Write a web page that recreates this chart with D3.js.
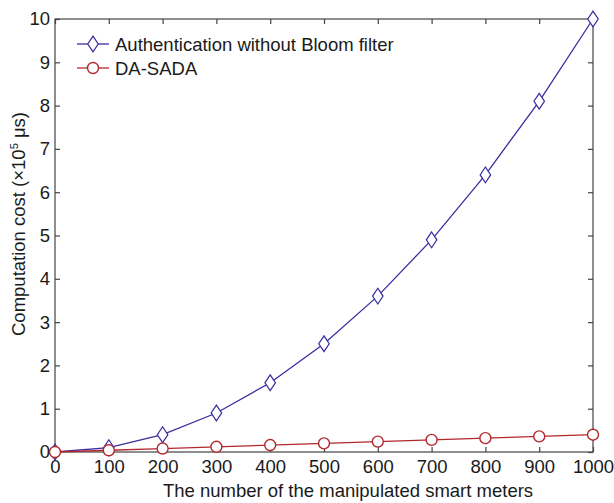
<!doctype html>
<html>
<body>
<style type="text/css">
    html,body{ margin:0; overflow:hidden; background:#fff; }
    text { font-family: "Liberation Sans", Arial, sans-serif; fill:#1a1a1a; }
</style>
<script src="https://d3js.org/d3.v7.min.js"></script>
<script type="text/javascript">
var meters = [0,100,200,300,400,500,600,700,800,900,1000];
var noBloom = [0,0.1,0.4,0.9,1.6,2.5,3.6,4.9,6.4,8.1,10];
var dasada = [0,0.04,0.08,0.12,0.16,0.2,0.24,0.28,0.32,0.36,0.4];
var yTicks = [0,1,2,3,4,5,6,7,8,9,10];

(function(){
var w = 614, h = 503,
    pl = 55, pr = 593, pt = 19, pb = 452;

var svg = d3.select("body").append("svg").attr("width", w).attr("height", h);

var x = d3.scaleLinear().domain([0,1000]).range([pl,pr]);
var y = d3.scaleLinear().domain([0,10]).range([pb,pt]);

// box + ticks
svg.append("rect").attr("x",pl).attr("y",pt).attr("width",pr-pl).attr("height",pb-pt)
    .attr("fill","none").attr("stroke","#444").attr("stroke-width",1.2);

var xa = svg.append("g").attr("transform","translate(0,"+pb+")")
    .call(d3.axisBottom(x).tickValues(meters).tickSize(-5).tickPadding(8).tickFormat(d3.format("d")));
var xt = svg.append("g").attr("transform","translate(0,"+pt+")")
    .call(d3.axisTop(x).tickValues(meters).tickSize(-5).tickFormat(""));
var ya = svg.append("g").attr("transform","translate("+pl+",0)")
    .call(d3.axisLeft(y).tickValues(yTicks).tickSize(-5).tickPadding(5));
var yr = svg.append("g").attr("transform","translate("+pr+",0)")
    .call(d3.axisRight(y).tickValues(yTicks).tickSize(-5).tickFormat(""));
[xa,xt,ya,yr].forEach(function(g){
    g.select(".domain").remove();
    g.selectAll("line").attr("stroke","#444").attr("stroke-width",1.2);
    g.selectAll("text").attr("font-size",18.5).attr("fill","#1a1a1a")
        .style("font-family","'Liberation Sans', Arial, sans-serif");
});

svg.append("text").attr("x",(pl+pr)/2 + 24).attr("y",497).attr("text-anchor","middle")
    .attr("font-size",18.5).text("The number of the manipulated smart meters");

var yl = svg.append("text").attr("transform","translate(25,224) rotate(-90)")
    .attr("text-anchor","middle").attr("font-size",18.5);
yl.append("tspan").text("Computation cost (\u00d710");
yl.append("tspan").attr("font-size",11).attr("dy",-7).text("5");
yl.append("tspan").attr("dy",7).text(" \u03bcs)");

var line = d3.line().x(function(d,i){return x(meters[i]);}).y(function(d){return y(d);});

var blue = "#3a2fa0", red = "#b3282d";
var diamond = d3.symbol().type(d3.symbolDiamond2).size(110);

svg.append("path").datum(noBloom).attr("d",line).attr("fill","none").attr("stroke",blue).attr("stroke-width",1.3);
svg.append("path").datum(dasada).attr("d",line).attr("fill","none").attr("stroke",red).attr("stroke-width",1.3);

svg.selectAll(".dm").data(noBloom).enter().append("path")
    .attr("transform",function(d,i){return "translate("+x(meters[i])+","+y(d)+") scale(0.8,1.2)";})
    .attr("d",diamond).attr("fill","#fff").attr("stroke",blue).attr("stroke-width",1.3);
svg.selectAll(".cm").data(dasada).enter().append("circle")
    .attr("cx",function(d,i){return x(meters[i]);}).attr("cy",function(d){return y(d);})
    .attr("r",5.5).attr("fill","#fff").attr("stroke",red).attr("stroke-width",1.4);

// legend
var leg = [{name:"Authentication without Bloom filter", c:blue, m:"d"},{name:"DA-SADA", c:red, m:"c"}];
leg.forEach(function(l,i){
    var ly = 44 + i*24;
    svg.append("line").attr("x1",77).attr("x2",109).attr("y1",ly).attr("y2",ly).attr("stroke",l.c).attr("stroke-width",1.3);
    if (l.m === "d") {
        svg.append("path").attr("transform","translate(93,"+ly+") scale(0.8,1.2)").attr("d",diamond)
            .attr("fill","#fff").attr("stroke",l.c).attr("stroke-width",1.3);
    } else {
        svg.append("circle").attr("cx",93).attr("cy",ly).attr("r",5.5).attr("fill","#fff").attr("stroke",l.c).attr("stroke-width",1.4);
    }
    svg.append("text").attr("x",115).attr("y",ly+6.5).attr("font-size",18.5).text(l.name);
});
})();
</script>
</body>
</html>
